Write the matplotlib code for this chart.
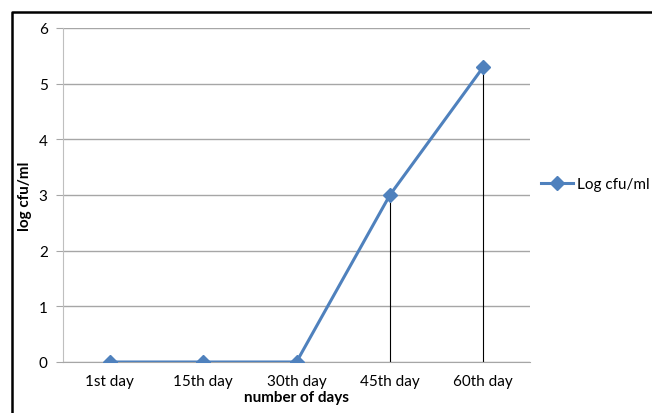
import matplotlib
matplotlib.use('Agg')
import matplotlib.pyplot as plt
from matplotlib.lines import Line2D

days = ['1st day', '15th day', '30th day', '45th day', '60th day']
log_cfu = [0, 0, 0, 3.0, 5.3]
drop_days = [3, 4]  # indices that get a drop line to the axis

plt.rcParams['font.family'] = ['Lato', 'DejaVu Sans']

fig = plt.figure(figsize=(6.52, 4.14), dpi=100)
ax = fig.add_axes([63 / 652, 51 / 414, 467 / 652, 334 / 414])

x = list(range(len(days)))
ax.vlines([x[i] for i in drop_days], 0, [log_cfu[i] for i in drop_days],
          color='black', lw=0.8, zorder=2)
ax.plot(x, log_cfu, color='#4F81BD', lw=2.2, marker='D', markersize=7,
        label='Log cfu/ml', zorder=3)

ax.set_xlim(-0.5, len(days) - 0.5)
ax.set_ylim(0, 6)
ax.set_yticks(range(7))
ax.set_xticks(x)
ax.set_xticklabels(days)
ax.yaxis.grid(True, color='#A6A6A6', lw=1)
ax.set_axisbelow(True)

for side in ('top', 'right'):
    ax.spines[side].set_visible(False)
ax.spines['left'].set_color('#BFBFBF')
ax.spines['bottom'].set_color('#A6A6A6')
ax.tick_params(axis='y', length=5, color='#A6A6A6', labelsize=11, pad=6)
ax.tick_params(axis='x', length=0, labelsize=11, pad=9)

ax.set_xlabel('number of days', fontweight='bold', fontsize=11, labelpad=1)
ax.set_ylabel('log cfu/ml', fontweight='bold', fontsize=11, va='center')
ax.yaxis.set_label_coords(-38 / 467, 0.5)

ax.legend(loc='center left', bbox_to_anchor=(541 / 652, 1 - 185 / 414),
          bbox_transform=fig.transFigure, frameon=False, fontsize=11,
          handlelength=2.1, handletextpad=0.25, borderpad=0, borderaxespad=0)

# outer frame, left and top edges
fig.add_artist(Line2D([12 / 652, 12 / 652, 1.0], [0.0, 1 - 13 / 414, 1 - 13 / 414],
                      transform=fig.transFigure, color='black', lw=1.8))

fig.savefig('out.png', dpi=100)
